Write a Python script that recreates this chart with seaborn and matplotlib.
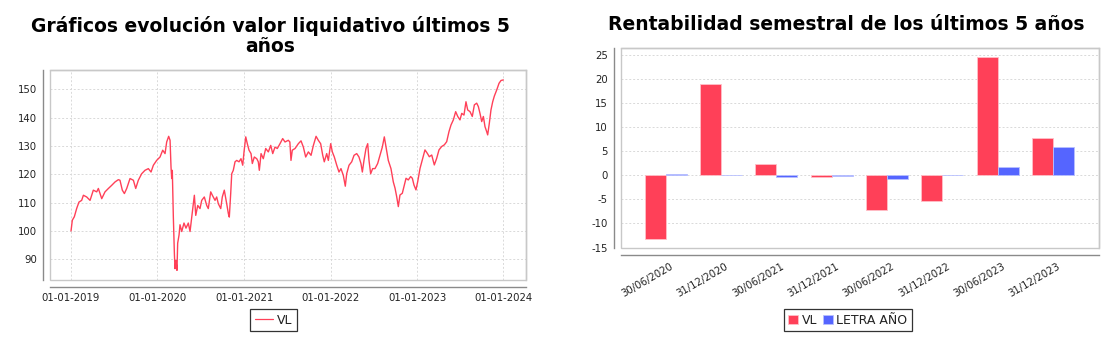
import numpy as np
import pandas as pd
import matplotlib
matplotlib.use('Agg')
import matplotlib.pyplot as plt
import matplotlib.transforms as mtransforms
from matplotlib.patches import Rectangle, Patch
from matplotlib.lines import Line2D
import seaborn as sns

# ---------------- DATA ----------------
# Valor liquidativo (decimal year, value)
years_a = [2019.000, 2019.015, 2019.038, 2019.066, 2019.092, 2019.123, 2019.143, 2019.181, 2019.220, 2019.258,
           2019.297, 2019.316, 2019.355, 2019.393, 2019.432, 2019.470, 2019.509, 2019.547, 2019.566, 2019.593,
           2019.617, 2019.644, 2019.682, 2019.721, 2019.748, 2019.778, 2019.817, 2019.855, 2019.894, 2019.925,
           2019.952, 2019.990, 2020.029, 2020.060, 2020.087, 2020.106, 2020.129, 2020.145, 2020.156, 2020.164,
           2020.171, 2020.183, 2020.195, 2020.202, 2020.214, 2020.225]
values_a = [100.0, 103.8, 105.0, 108.0, 110.2, 110.8, 112.6, 112.0, 110.8, 114.4,
            113.8, 115.0, 111.4, 113.8, 115.0, 116.1, 117.3, 118.1, 117.9, 114.4,
            113.2, 115.0, 118.5, 117.9, 115.0, 117.9, 120.2, 121.4, 122.0, 120.8,
            123.2, 124.9, 126.1, 128.5, 127.3, 131.4, 133.4, 132.0, 122.6, 118.5,
            121.4, 104.9, 92.0, 86.7, 89.6, 86.1]

years_b = [2020.233, 2020.249, 2020.260, 2020.280, 2020.306, 2020.329, 2020.356, 2020.376, 2020.395, 2020.414,
           2020.426, 2020.442, 2020.465, 2020.491, 2020.511, 2020.541, 2020.569, 2020.587, 2020.615, 2020.634,
           2020.665, 2020.684, 2020.703, 2020.731, 2020.749, 2020.772, 2020.800, 2020.819, 2020.830, 2020.846,
           2020.858, 2020.876, 2020.896, 2020.916, 2020.942, 2020.965, 2020.985, 2021.000, 2021.020, 2021.038,
           2021.058, 2021.081, 2021.096, 2021.119, 2021.147, 2021.165, 2021.177, 2021.197, 2021.223, 2021.251,
           2021.281, 2021.309, 2021.332, 2021.358, 2021.385, 2021.416, 2021.447]
values_b = [95.7, 98.6, 102.2, 99.8, 102.8, 101.0, 102.8, 99.8, 104.8, 109.6,
            112.6, 105.5, 109.0, 107.9, 110.8, 112.0, 109.0, 107.9, 113.8, 112.6,
            110.8, 112.0, 109.6, 107.9, 112.0, 114.4, 109.6, 106.1, 104.9, 113.2,
            120.2, 121.4, 124.4, 124.9, 124.4, 125.5, 123.2, 127.9, 133.2, 130.8,
            128.5, 127.3, 123.8, 126.1, 125.5, 124.4, 121.4, 127.3, 125.5, 129.1,
            127.9, 130.2, 127.3, 129.6, 129.1, 130.8, 132.6]

years_c = [2021.474, 2021.512, 2021.530, 2021.543, 2021.558, 2021.590, 2021.628, 2021.659, 2021.686, 2021.713,
           2021.744, 2021.775, 2021.802, 2021.833, 2021.859, 2021.886, 2021.910, 2021.928, 2021.956, 2021.975,
           2022.002, 2022.021, 2022.044, 2022.072, 2022.098, 2022.121, 2022.148, 2022.171, 2022.187, 2022.214,
           2022.245, 2022.272, 2022.303, 2022.329, 2022.352, 2022.368, 2022.387, 2022.410, 2022.430, 2022.445,
           2022.464, 2022.487, 2022.514, 2022.545, 2022.572, 2022.599, 2022.622, 2022.642, 2022.668, 2022.699,
           2022.726]
values_c = [131.4, 132.0, 131.4, 124.9, 128.5, 129.1, 130.8, 131.8, 129.6, 126.1,
            127.9, 126.7, 130.2, 133.4, 132.0, 130.8, 126.7, 124.4, 127.3, 124.9,
            130.8, 127.9, 126.1, 123.2, 120.8, 122.0, 119.6, 115.8, 120.2, 123.2,
            124.4, 126.7, 127.3, 126.1, 123.8, 120.8, 124.9, 129.1, 130.8, 124.9,
            120.2, 122.0, 122.0, 123.8, 126.7, 129.6, 133.2, 129.6, 124.9, 122.0,
            117.3]

years_d = [2022.746, 2022.765, 2022.784, 2022.803, 2022.830, 2022.853, 2022.873, 2022.899, 2022.926, 2022.946,
           2022.965, 2022.988, 2023.008, 2023.035, 2023.061, 2023.092, 2023.119, 2023.142, 2023.170, 2023.200,
           2023.227, 2023.254, 2023.285, 2023.316, 2023.343, 2023.370, 2023.393, 2023.420, 2023.447, 2023.471,
           2023.497, 2023.517, 2023.543, 2023.566, 2023.586, 2023.613, 2023.639, 2023.663, 2023.690, 2023.709,
           2023.728, 2023.748, 2023.767, 2023.786, 2023.805, 2023.817, 2023.836, 2023.855, 2023.875, 2023.894,
           2023.922, 2023.948, 2023.971, 2023.998]
values_d = [115.1, 112.1, 108.6, 112.7, 113.3, 116.2, 118.6, 118.0, 119.2, 118.6,
            116.2, 114.5, 117.4, 122.1, 125.1, 128.6, 127.4, 126.2, 126.8, 123.3,
            125.6, 128.6, 129.8, 130.4, 131.5, 135.1, 137.4, 139.2, 142.1, 140.4,
            139.2, 141.5, 140.9, 145.6, 142.7, 142.1, 140.4, 144.5, 145.1, 143.9,
            141.5, 138.6, 140.4, 136.8, 135.1, 133.9, 138.0, 142.7, 145.6, 147.6,
            149.8, 152.1, 153.1, 153.3]

line_ticks = ['01-01-2019', '01-01-2020', '01-01-2021', '01-01-2022', '01-01-2023', '01-01-2024']

# Rentabilidad semestral
periodos = ['30/06/2020', '31/12/2020', '30/06/2021', '31/12/2021',
            '30/06/2022', '31/12/2022', '30/06/2023', '31/12/2023']
rent_vl = [-13.2, 18.9, 2.3, -0.3, -7.2, -5.3, 24.6, 7.8]
rent_letra = [0.2, 0.05, -0.3, -0.15, -0.8, 0.0, 1.65, 5.95]
bar_ticks = [-15, -10, -5, 0, 5, 10, 15, 20, 25]

title_left = 'Gráficos evolución valor liquidativo últimos 5\naños'
title_right = 'Rentabilidad semestral de los últimos 5 años'

# ---------------- STYLE ----------------
sns.set_theme(style='white')
plt.rcParams['font.family'] = ['DejaVu Sans']
plt.rcParams['axes.unicode_minus'] = False

RED = '#FF4058'
BLUE = '#5565FF'
FRAME = '#c8c8c8'
AXIS = '#8a8a8a'
TXT = '#222222'

W, H = 1117, 345
fig = plt.figure(figsize=(W / 100, H / 100), dpi=100)
fig.patch.set_facecolor('white')


def box(l, t, r, b):
    return [l / W, (H - b) / H, (r - l) / W, (b - t) / H]


def style_axes(ax):
    for s in ['top', 'right']:
        ax.spines[s].set_color(FRAME)
        ax.spines[s].set_linewidth(1.0)
    for s in ['left', 'bottom']:
        ax.spines[s].set_position(('outward', 5))
        ax.spines[s].set_color(AXIS)
        ax.spines[s].set_linewidth(1.0)
    ax.add_patch(Rectangle((0, 0), 1, 1, transform=ax.transAxes, fill=False,
                           ec=FRAME, lw=1.0, clip_on=False, zorder=5))
    ax.tick_params(direction='out', length=2.5, width=0.8, color=AXIS,
                   labelsize=7.3, labelcolor=TXT, pad=2)
    ax.set_xlabel('')
    ax.set_ylabel('')


def to_date(y):
    y = np.asarray(y, dtype=float)
    return pd.Timestamp('2019-01-01') + pd.to_timedelta((y - 2019.0) * 365.25, unit='D')


# ---------------- LEFT: line chart ----------------
ax1 = fig.add_axes(box(50, 70, 526, 280))
all_years = years_a + years_b + years_c + years_d
all_vals = values_a + values_b + values_c + values_d
df_line = pd.DataFrame({'fecha': to_date(all_years), 'VL': all_vals})
sns.lineplot(data=df_line, x='fecha', y='VL', ax=ax1, color=RED, lw=1.0, legend=False)
ax1.set_xlim(to_date(2018.757), to_date(2024.26))
ax1.set_ylim(82.7, 156.8)
ax1.set_yticks(np.arange(90, 151, 10))
tick_dates = [pd.to_datetime(t, format='%d-%m-%Y') for t in line_ticks]
ax1.set_xticks(tick_dates)
ax1.set_xticklabels(line_ticks)
ax1.grid(True, ls=(0, (2, 2)), color='#d9d9d9', lw=0.7)
style_axes(ax1)

# ---------------- RIGHT: bar chart ----------------
ax2 = fig.add_axes(box(621, 48, 1099, 248))
df_bar = pd.DataFrame({
    'periodo': periodos * 2,
    'valor': rent_vl + rent_letra,
    'serie': ['VL'] * len(periodos) + ['LETRA AÑO'] * len(periodos),
})
sns.barplot(data=df_bar, x='periodo', y='valor', hue='serie', order=periodos,
            hue_order=['VL', 'LETRA AÑO'], palette=[RED, BLUE], width=0.76,
            ax=ax2, legend=False, edgecolor='#ffc0c8', linewidth=0.6, saturation=1)
for p in ax2.patches:
    fc = p.get_facecolor()
    if fc[2] > 0.8:
        p.set_edgecolor('#b8c0ff')
ax2.set_xlim(-0.808, 7.83)
ax2.set_ylim(-15.1, 26.4)
ax2.set_yticks(bar_ticks)
ax2.yaxis.grid(True, ls=(0, (2, 2)), color='#d9d9d9', lw=0.7)
ax2.xaxis.grid(False)
style_axes(ax2)
ax2.set_xticks(range(len(periodos)))
ax2.set_xticklabels(periodos, rotation=30, ha='right', va='top', rotation_mode='anchor')
offset = mtransforms.ScaledTranslation(4 / 100, 0, fig.dpi_scale_trans)
for lab in ax2.get_xticklabels():
    lab.set_transform(lab.get_transform() + offset)

# ---------------- TITLES ----------------
fig.text(270 / W, 1 - 36 / H, title_left, ha='center', va='center', fontsize=13.5,
         fontweight='bold', color='black', linespacing=1.12)
fig.text(846 / W, 1 - 25 / H, title_right, ha='center', va='center', fontsize=13.5,
         fontweight='bold', color='black')

# ---------------- LEGENDS ----------------
leg1 = fig.legend(handles=[Line2D([], [], color=RED, lw=0.9)], labels=['VL'],
                  loc='center', bbox_to_anchor=(273.5 / W, 1 - 320 / H), fontsize=9,
                  frameon=True, fancybox=False, edgecolor='#333333', framealpha=1,
                  handlelength=1.5, handletextpad=0.3, borderpad=0.35, borderaxespad=0)
leg1.get_frame().set_linewidth(0.9)
for t in leg1.get_texts():
    t.set_color(TXT)

leg2 = fig.legend(handles=[Patch(fc=RED, ec='#ffc0c8', lw=0.6), Patch(fc=BLUE, ec='#b8c0ff', lw=0.6)],
                  labels=['VL', 'LETRA AÑO'], loc='center',
                  bbox_to_anchor=(848 / W, 1 - 320 / H), fontsize=9, ncol=2,
                  frameon=True, fancybox=False, edgecolor='#333333', framealpha=1,
                  handlelength=0.75, handleheight=0.75, handletextpad=0.3,
                  columnspacing=0.5, borderpad=0.35, borderaxespad=0)
leg2.get_frame().set_linewidth(0.9)
for t in leg2.get_texts():
    t.set_color(TXT)

fig.savefig('out.png', dpi=100, facecolor='white')
